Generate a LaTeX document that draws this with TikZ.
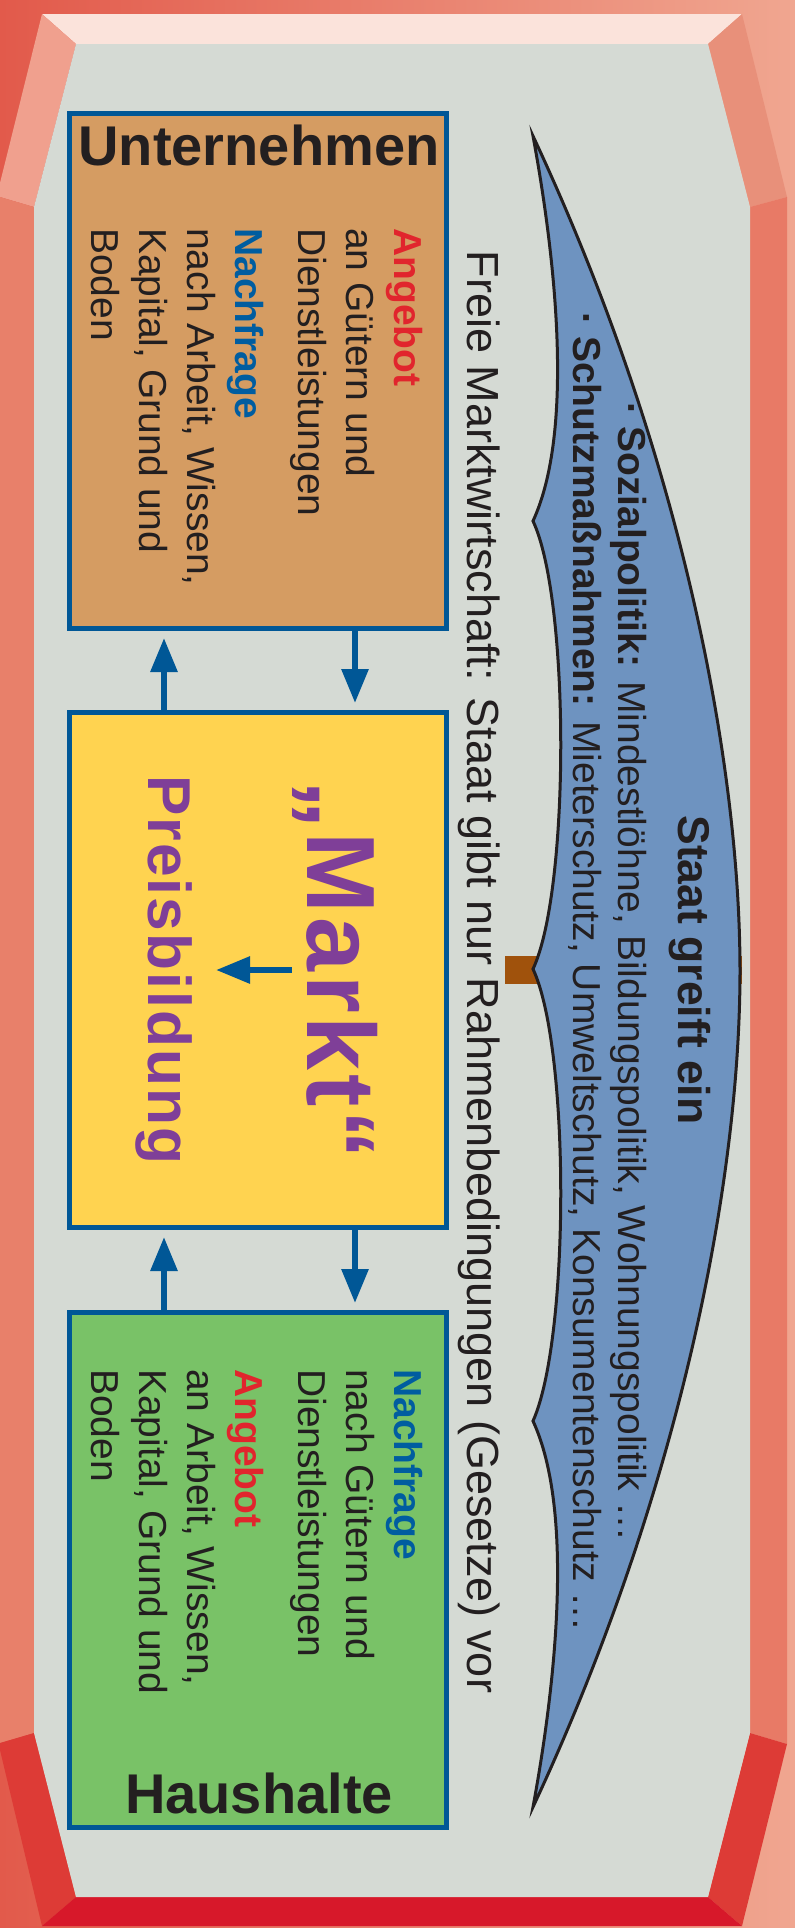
\documentclass[tikz,border=0pt]{standalone}
\usepackage{fontspec}
\setmainfont{Liberation Sans}
\usetikzlibrary{arrows.meta, positioning, calc}
\definecolor{frame_left}{RGB}{226, 90, 75}
\definecolor{frame_right}{RGB}{240, 166, 144}
\definecolor{face_top}{RGB}{251, 227, 219}
\definecolor{face_bottom}{RGB}{215, 24, 42}
\definecolor{face_light}{RGB}{240, 160, 142}
\definecolor{face_mid}{RGB}{232, 128, 106}
\definecolor{face_rightup}{RGB}{232, 144, 122}
\definecolor{face_rightmid}{RGB}{232, 122, 102}
\definecolor{face_low}{RGB}{221, 59, 54}
\definecolor{panel_gray}{RGB}{213, 218, 212}
\definecolor{box_blue}{RGB}{0, 87, 150}
\definecolor{firm_tan}{RGB}{213, 156, 98}
\definecolor{market_yellow}{RGB}{255, 211, 80}
\definecolor{home_green}{RGB}{121, 194, 103}
\definecolor{offer_red}{RGB}{225, 37, 45}
\definecolor{demand_blue}{RGB}{0, 93, 160}
\definecolor{market_purple}{RGB}{127, 63, 152}
\definecolor{state_blue}{RGB}{110, 147, 192}
\definecolor{bar_brown}{RGB}{160, 82, 12}
\definecolor{ink}{RGB}{35, 31, 32}
\def \Ang {{\bfseries\color{offer_red}Angebot}}
\def \Nach {{\bfseries\color{demand_blue}Nachfrage}}
\def \titlefont {\fontsize{56pt}{60pt}\selectfont\bfseries}
\def \listfont {\fontsize{39pt}{48pt}\selectfont}
\def \notefont {\fontsize{45pt}{50pt}\selectfont}
\def \statefont {\fontsize{44.5pt}{50pt}\selectfont\bfseries}
\def \marktfont {\fontsize{97pt}{100pt}\selectfont\bfseries\addfontfeatures{LetterSpace=4}}
\def \preisfont {\fontsize{60.5pt}{64pt}\selectfont\bfseries\addfontfeatures{LetterSpace=3.5}}

\begin{document}
\begin{tikzpicture}[
    x=1pt, y=-1pt,
    box/.style={
        rectangle,
        draw=box_blue,
        fill=#1,
        line width=5pt,
        minimum width=377pt,
        minimum height=515pt,
        inner sep=0pt
    },
    title/.style={
        font=\titlefont,
        text=ink,
        anchor=base,
        inner sep=0pt
    },
    listing/.style={
        rotate=-90,
        anchor=north west,
        align=left,
        font=\listfont,
        text=ink,
        inner sep=0pt
    },
    turned/.style={
        rotate=-90,
        anchor=base,
        text=ink,
        inner sep=0pt
    },
    arrow/.style={
        -{Triangle[length=34pt,width=26pt]},
        line width=6pt,
        #1
    }
]
\useasboundingbox (0,0) rectangle (795,1928);

% Frame of the picture
\shade[left color=frame_left, right color=frame_right] (0,0) rectangle (795,1928);
\fill[face_top] (42,14) -- (742,14) -- (708,44) -- (76,44) -- cycle;
\fill[face_light] (42,14) -- (76,44) -- (34,207) -- (0,197) -- (0,183) -- cycle;
\fill[face_mid] (0,197) -- (34,207) -- (34,1733) -- (0,1743) -- cycle;
\fill[face_low] (0,1743) -- (34,1733) -- (76,1897) -- (42,1926) -- (0,1750) -- cycle;
\fill[face_rightup] (742,14) -- (787,197) -- (750,207) -- (708,44) -- cycle;
\fill[face_rightmid] (750,207) -- (787,197) -- (787,1744) -- (750,1733) -- cycle;
\fill[face_low] (750,1733) -- (787,1744) -- (742,1926) -- (708,1897) -- cycle;
\fill[face_bottom] (76,1897) -- (708,1897) -- (742,1926) -- (42,1926) -- cycle;
\fill[panel_gray] (76,44) -- (708,44) -- (750,207) -- (750,1733) -- (708,1897)
    -- (76,1897) -- (34,1733) -- (34,207) -- cycle;

% Position the boxes
\node[box=firm_tan] (firms) at (258,371) {};
\node[box=market_yellow] (market) at (258,970) {};
\node[box=home_green] (homes) at (258,1570) {};

% Box titles
\node[title] (firmstitle) at (259,165) {Unternehmen};
\node[title] (homestitle) at (259,1813) {Haushalte};

% Supply and demand
\node[listing] (firmslist) at (423,228) {\Ang\\an Gütern und\\Dienstleistungen\\[15pt]\Nach\\nach Arbeit, Wissen,\\Kapital, Grund und\\Boden};
\node[listing] (homeslist) at (423,1369) {\Nach\\nach Gütern und\\Dienstleistungen\\[15pt]\Ang\\an Arbeit, Wissen,\\Kapital, Grund und\\Boden};

% Market
\node[turned, font=\marktfont, text=market_purple] (markttxt) at (307,970) {„Markt“};
\node[turned, font=\preisfont, text=market_purple] (preistxt) at (148,970) {Preisbildung};

% Rules of the free market
\node[turned, font=\notefont] (rahmen) at (467,972) {Freie Marktwirtschaft: Staat gibt nur Rahmenbedingungen (Gesetze) vor};

% State banner
\fill[bar_brown] (505,956) rectangle (742,984);
\draw[line width=3pt, draw=ink, fill=state_blue]
    (533,136) .. controls (555,255) and (575,430) .. (533,521)
    .. controls (570,600) and (570,890) .. (533,969)
    .. controls (570,1048) and (570,1338) .. (533,1421)
    .. controls (575,1512) and (555,1688) .. (533,1807)
    .. controls (680,1492) and (740,1182) .. (740,971)
    .. controls (740,760) and (680,450) .. cycle;
\node[turned, font=\statefont] (staat) at (678,970) {Staat greift ein};
\node[turned, font=\listfont] (sozial) at (618,972) {{\bfseries· Sozialpolitik:} Mindestlöhne, Bildungspolitik, Wohnungspolitik …};
\node[turned, font=\listfont] (schutz) at (573,972) {{\bfseries· Schutzmaßnahmen:} Mieterschutz, Umweltschutz, Konsumentenschutz …};

% Draw the arrows
\draw[arrow=box_blue, shorten >=7pt] ($(market.north west)+(97,0)$) -- ($(firms.south west)+(97,0)$);
\draw[arrow=box_blue, shorten >=7pt] ($(firms.south west)+(288,0)$) -- ($(market.north west)+(288,0)$);
\draw[arrow=box_blue, shorten >=7pt] ($(homes.north west)+(97,0)$) -- ($(market.south west)+(97,0)$);
\draw[arrow=box_blue, shorten >=7pt] ($(market.south west)+(288,0)$) -- ($(homes.north west)+(288,0)$);
\draw[arrow=box_blue, shorten >=24pt] (markttxt.south) -- (preistxt.north);

\end{tikzpicture}
\end{document}
